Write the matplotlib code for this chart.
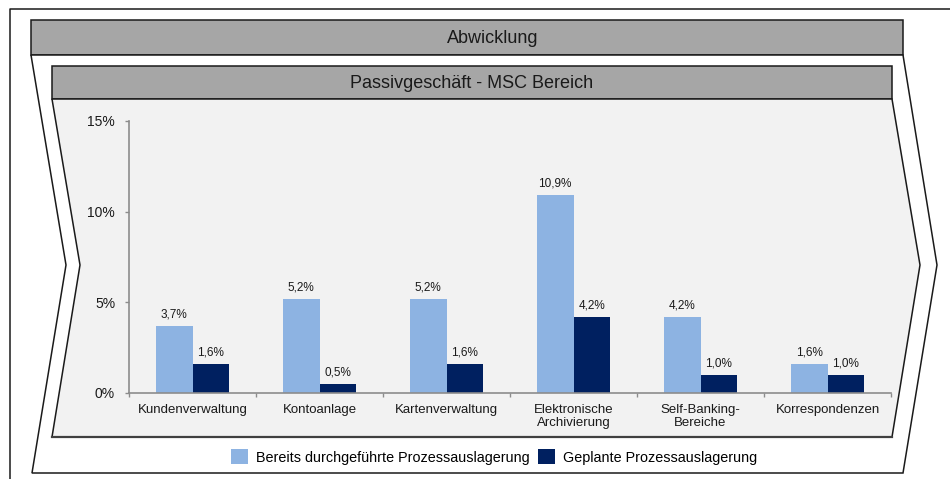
"""Abwicklung / Passivgeschäft - MSC Bereich: Prozessauslagerung je Bereich."""
import matplotlib
matplotlib.use("Agg")
import matplotlib.pyplot as plt
from matplotlib.patches import Patch, Polygon, Rectangle

plt.rcParams["font.family"] = ["Liberation Sans", "DejaVu Sans"]

categories = [
    "Kundenverwaltung", "Kontoanlage", "Kartenverwaltung",
    "Elektronische\nArchivierung", "Self-Banking-\nBereiche", "Korrespondenzen",
]
bereits = [3.7, 5.2, 5.2, 10.9, 4.2, 1.6]
geplant = [1.6, 0.5, 1.6, 4.2, 1.0, 1.0]
y_ticks = [0, 5, 10, 15]
series_names = ["Bereits durchgeführte Prozessauslagerung", "Geplante Prozessauslagerung"]

LIGHT = "#8DB3E2"
DARK = "#002060"
HEAD = "#A6A6A6"
PANEL = "#F2F2F2"
EDGE = "#1A1A1A"
AXIS = "#8C8C8C"

W, H = 950, 479
fig = plt.figure(figsize=(W / 100, H / 100), dpi=100)

# decorative frame in pixel coordinates
bg = fig.add_axes([0, 0, 1, 1])
bg.set_xlim(0, W)
bg.set_ylim(H, 0)
bg.axis("off")

lw = 1.1
bg.plot([10, 10, W], [H, 9, 9], color=EDGE, lw=lw)
bg.add_patch(Rectangle((31, 20), 872, 35, fc=HEAD, ec=EDGE, lw=lw))
bg.add_patch(Polygon([(31, 55), (903, 55), (937, 265), (903, 473), (32, 473), (66, 265)],
                     closed=True, fc="white", ec=EDGE, lw=lw))
bg.add_patch(Rectangle((52, 66), 840, 33, fc=HEAD, ec=EDGE, lw=lw))
bg.add_patch(Polygon([(52, 99), (892, 99), (920, 265), (892, 437), (52, 437), (80, 265)],
                     closed=True, fc=PANEL, ec=EDGE, lw=lw))
bg.plot([52, 892], [437, 437], color="#404040", lw=1.6)
bg.text(493, 38, "Abwicklung", ha="center", va="center", fontsize=13, color=EDGE)
bg.text(472, 83, "Passivgeschäft - MSC Bereich", ha="center", va="center",
        fontsize=13, color=EDGE)

# bar chart
ax = fig.add_axes([129 / W, (H - 393) / H, 762 / W, 272 / H])
ax.set_facecolor("none")
x = list(range(len(categories)))
bw = 0.29
b1 = ax.bar([i - bw / 2 for i in x], bereits, width=bw, color=LIGHT)
b2 = ax.bar([i + bw / 2 for i in x], geplant, width=bw, color=DARK)
fmt = lambda v: f"{v:.1f}%".replace(".", ",")
ax.bar_label(b1, labels=[fmt(v) for v in bereits], padding=4, fontsize=8.5, color=EDGE)
ax.bar_label(b2, labels=[fmt(v) for v in geplant], padding=4, fontsize=8.5, color=EDGE)

ax.set_xlim(-0.5, len(categories) - 0.5)
ax.set_ylim(0, 15)
ax.set_yticks(y_ticks)
ax.set_yticklabels([f"{t}%" for t in y_ticks], fontsize=10, color=EDGE)
ax.set_xticks(x)
ax.set_xticklabels(categories, fontsize=9.5, color=EDGE, linespacing=1.1)
ax.set_xticks([i - 0.5 for i in range(len(categories) + 1)], minor=True)
ax.tick_params(axis="x", which="major", length=0, pad=8)
ax.tick_params(axis="x", which="minor", length=3, color=AXIS, width=1)
ax.tick_params(axis="y", length=3, color=AXIS, width=1, pad=7)
for s in ("top", "right"):
    ax.spines[s].set_visible(False)
for s in ("left", "bottom"):
    ax.spines[s].set_color(AXIS)
    ax.spines[s].set_linewidth(1.2)

handles = [Patch(fc=LIGHT, ec="none"), Patch(fc=DARK, ec="none")]
fig.legend(handles, series_names, loc="center", bbox_to_anchor=(494 / W, 1 - 457 / H),
           ncol=2, frameon=False, fontsize=10.4, handlelength=1.17, handleheight=1.17,
           handletextpad=0.55, columnspacing=0.62, borderaxespad=0)

fig.savefig("out.png", dpi=100)
